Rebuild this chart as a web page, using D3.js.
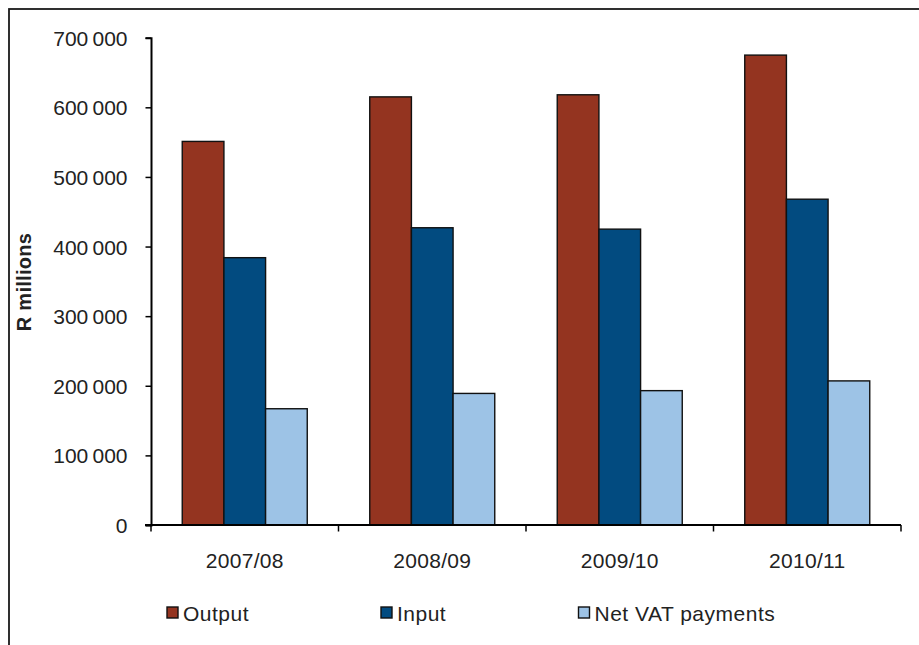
<!DOCTYPE html>
<html>
<head>
<meta charset="utf-8">
<script src="https://cdn.jsdelivr.net/npm/d3@7"></script>
<style>
  html, body { margin: 0; padding: 0; background: #fff; }
  svg text { font-family: "Liberation Sans", Arial, sans-serif; fill: #222; }
</style>
</head>
<body>
<svg id="chart" width="919" height="645"></svg>
<script>
const categories = ["2007/08", "2008/09", "2009/10", "2010/11"];
const seriesNames = ["Output", "Input", "Net VAT payments"];
const output = [551000, 615000, 618000, 675000];
const input = [384000, 427000, 425000, 468000];
const netVat = [167000, 189000, 193000, 207000];
const yTicks = [0, 100000, 200000, 300000, 400000, 500000, 600000, 700000];
const colors = ["#943420", "#024B80", "#9DC3E6"];

(function () {
const seriesValues = [output, input, netVat];
const svg = d3.select("#chart");

// outer frame (extends beyond the visible area on right and bottom)
svg.append("rect")
  .attr("x", 9).attr("y", 9).attr("width", 1000).attr("height", 1000)
  .attr("fill", "none").attr("stroke", "#1a1a1a").attr("stroke-width", 1.8);

const pl = 151, pr = 901, pt = 37.7, pb = 525;

const x = d3.scaleBand().domain(categories).range([pl, pr]).paddingInner(0).paddingOuter(0);
const y = d3.scaleLinear().domain([0, 700000]).range([pb, pt]);

// bars: gap width 150% of bar width
const barW = x.bandwidth() / (3 + 1.5);
const xs = d3.scaleBand().domain(seriesNames).range([barW * 0.75, barW * 3.75]);

const groups = svg.append("g").selectAll("g")
  .data(categories).join("g")
  .attr("transform", d => `translate(${x(d)},0)`);

groups.selectAll("rect")
  .data((c, i) => seriesNames.map((s, k) => ({ s, k, v: seriesValues[k][i] })))
  .join("rect")
  .attr("x", d => xs(d.s))
  .attr("y", d => y(d.v))
  .attr("width", xs.bandwidth())
  .attr("height", d => y(0) - y(d.v))
  .attr("fill", d => colors[d.k])
  .attr("stroke", "#111")
  .attr("stroke-width", 1.4);

// Y axis
const fmt = v => v === 0 ? "0" : d3.format(",")(v).replace(/,/g, "\u2009");
const yAxis = svg.append("g")
  .attr("transform", `translate(${pl},0)`)
  .call(d3.axisLeft(y).tickValues(yTicks).tickSize(5.5).tickPadding(18).tickFormat(fmt));
yAxis.select(".domain").attr("stroke", "#000").attr("stroke-width", 2);
yAxis.selectAll(".tick line").attr("stroke", "#000").attr("stroke-width", 1.5);
yAxis.selectAll(".tick text")
  .attr("font-size", 21).attr("fill", "#222")
  .attr("font-family", "'Liberation Sans', Arial, sans-serif")
  .attr("dy", "0.36em")
  .style("letter-spacing", "0px");

// X axis
const xAxis = svg.append("g")
  .attr("transform", `translate(0,${pb})`)
  .call(d3.axisBottom(x).tickSize(0).tickPadding(0));
xAxis.select(".domain").remove();
svg.append("line").attr("x1", pl - 6).attr("x2", pr).attr("y1", pb).attr("y2", pb)
  .attr("stroke", "#000").attr("stroke-width", 2);
xAxis.selectAll(".tick text")
  .attr("font-size", 21).attr("fill", "#222")
  .attr("font-family", "'Liberation Sans', Arial, sans-serif")
  .attr("y", 43).attr("dy", 0)
  .style("letter-spacing", "0.3px");
xAxis.selectAll(".tick line").remove();
// category boundary ticks
const boundaries = categories.map(c => x(c)).concat([pr]);
svg.append("g").selectAll("line").data(boundaries).join("line")
  .attr("x1", d => d).attr("x2", d => d)
  .attr("y1", pb).attr("y2", pb + 6.5)
  .attr("stroke", "#000").attr("stroke-width", 1.5);

// Y axis title
svg.append("text")
  .attr("transform", "translate(31,282) rotate(-90)")
  .attr("text-anchor", "middle")
  .attr("font-size", 20).attr("font-weight", "bold")
  .attr("fill", "#222")
  .style("letter-spacing", "0.3px")
  .text("R millions");

// Legend
const legendX = [167, 381, 578.5];
const leg = svg.append("g").selectAll("g").data(seriesNames).join("g")
  .attr("transform", (d, i) => `translate(${legendX[i]},607)`);
leg.append("rect").attr("width", 11).attr("height", 11)
  .attr("fill", (d, i) => colors[i]).attr("stroke", "#111").attr("stroke-width", 1.4);
leg.append("text").attr("x", 16).attr("y", 14)
  .attr("font-size", 21).attr("fill", "#222")
  .style("letter-spacing", "0.5px")
  .text(d => d);
})();
</script>
</body>
</html>
